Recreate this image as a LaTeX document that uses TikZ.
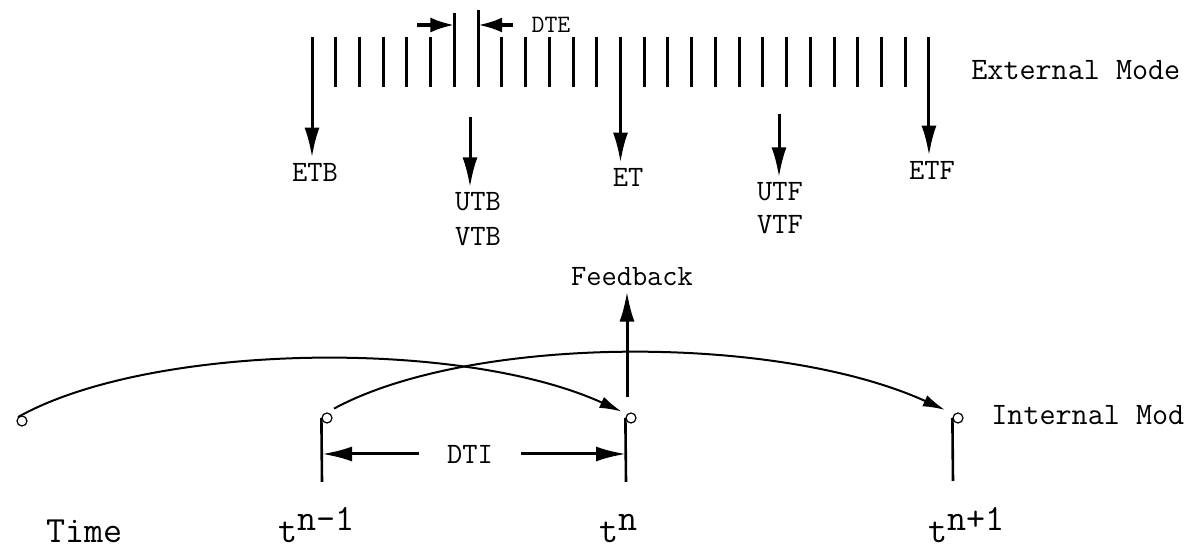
\documentclass[tikz,border=0pt]{standalone}
\usepackage{fontspec}
\usetikzlibrary{arrows.meta}
\tikzset{
  bar/.style={line width=1.5pt},
  arr/.style={-{Latex[length=15pt,width=7.5pt]}},
  sarr/.style={-{Latex[length=12pt,width=7.5pt]}},
  carr/.style={line width=1pt,-{Latex[length=11pt,width=6pt]}},
  stem/.style={line width=1.3pt},
  lbl/.style={font=\fontsize{14.8}{16}\selectfont\ttfamily,inner sep=2.5pt},
  mode/.style={font=\fontsize{15.6}{17}\selectfont\ttfamily,inner sep=2.5pt},
  big/.style={font=\fontsize{18.5}{20}\selectfont\ttfamily,inner sep=0pt},
  small/.style={font=\fontsize{12.5}{14}\selectfont\ttfamily,inner sep=1pt},
  pt/.style={circle,draw,line width=0.6pt,inner sep=0pt,minimum size=5pt},
}
\begin{document}
\begin{tikzpicture}[x=0.5pt,y=-0.5pt]
	\useasboundingbox (0,0) rectangle (1185,549);
	% EXTERNAL MODE
	\foreach \i in {0,...,26} {
		\pgfmathsetmacro\xx{312+\i*23.73}
		\coordinate (top\i) at (\xx,37);
		\coordinate (bot\i) at (\xx,87);
	}
	\foreach \i in {1,2,3,4,5,8,9,10,11,12,14,15,16,17,18,19,20,21,22,23,24,25}
		\draw[bar] (top\i) -- (bot\i);
	\draw[bar] (top6) ++(0,-24) -- (bot6);
	\draw[bar] (top7) ++(0,-27) -- (bot7);
	\node[small] (dte) at (551,25) {DTE};
	\coordinate (dtel) at (417,25);
	\coordinate (dter) at (513,25);
	\draw[line width=1.8pt,sarr] (dtel) -- (dtel -| top6);
	\draw[line width=1.8pt,sarr] (dter) -- (dter -| top7);
	\node[mode,anchor=west] (extmode) at (966,70) {External Mode};

	\node[lbl] (etb) at (315,172) {ETB};
	\node[lbl] (et) at (628,177) {ET};
	\node[lbl] (etf) at (932,170) {ETF};
	\node[lbl] (utb) at (478,202) {UTB};
	\node[lbl] (vtb) at (478,237) {VTB};
	\node[lbl] (utf) at (780,192) {UTF};
	\node[lbl] (vtf) at (780,225) {VTF};
	\coordinate (utbtop) at (470,117);
	\coordinate (utftop) at (779,114);
	\draw[bar,arr] (top0) -- (top0 |- etb.north);
	\draw[bar,arr] (top13) -- (top13 |- et.north);
	\draw[bar,arr] (top26) -- (top26 |- etf.north);
	\draw[bar,arr] (utbtop) -- (utbtop |- utb.north);
	\draw[bar,arr] (utftop) -- (utftop |- utf.north);

	% INTERNAL MODE
	\node[pt] (p0) at (22,421) {};
	\node[pt] (p1) at (327,418) {};
	\node[pt] (p2) at (631,418) {};
	\node[pt] (p3) at (958,418) {};
	\coordinate (b1) at (322,482);
	\coordinate (b2) at (626,482);
	\coordinate (b3) at (953,481);
	\draw[stem] (p1.west) -- (b1);
	\draw[stem] (p2.west) -- (b2);
	\draw[stem] (p3.west) -- (b3);
	\node[mode,anchor=west] (intmode) at (986,415) {Internal Mode};

	\draw[carr,shorten >=3pt] (p0.north west) .. controls (150,343) and (460,338) .. (p2.north west);
	\draw[carr,shorten <=4pt,shorten >=5pt] (p1.north) .. controls (470,335) and (775,333) .. (p3.north west);

	\node[lbl] (fb) at (632,277) {Feedback};
	\coordinate (fbbot) at (627,397);
	\draw[bar,arr] (fbbot) -- (fbbot |- fb.south);

	\node[lbl,inner xsep=14pt] (dti) at (470,454) {DTI};
	\draw[bar,arr] (dti.west) -- (dti.west -| b1);
	\draw[bar,arr] (dti.east) -- (dti.east -| b2);

	% TIME AXIS
	\node[big,anchor=base west] (time) at (46,543) {Time};
	\node[big,anchor=base west] (tnm) at (278,543) {t\raisebox{6pt}{n-1}};
	\node[big,anchor=base west] (tn) at (599,543) {t\raisebox{6pt}{n}};
	\node[big,anchor=base west] (tnp) at (928,543) {t\raisebox{6pt}{n+1}};
\end{tikzpicture}
\end{document}
